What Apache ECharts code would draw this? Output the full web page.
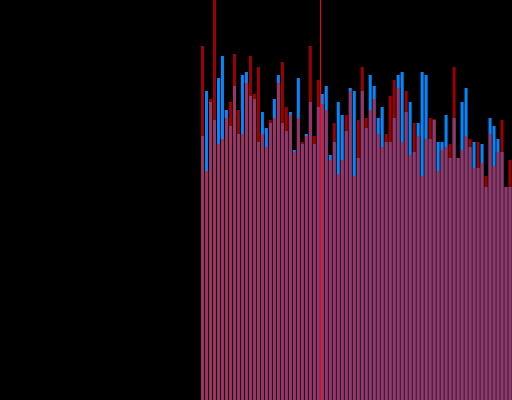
<!DOCTYPE html>
<html>
<head>
<meta charset="utf-8">
<style>html,body{margin:0;padding:0;background:#000;}#c{width:512px;height:400px;}</style>
<script src="https://cdn.jsdelivr.net/npm/echarts@6/dist/echarts.min.js"></script>
</head>
<body>
<div id="c"></div>
<script>
const categories = Array.from({length: 78}, (_, i) => String(i + 1));
const blueValues = [264,309,298,280,322,344,290,274,314,266,325,328,304,301,258,288,272,277,301,325,
  277,269,288,250,322,256,266,298,256,293,306,314,245,258,298,285,269,312,309,242,
  309,272,325,314,282,293,258,258,282,325,328,288,298,248,277,328,325,261,280,258,
  258,285,242,282,242,298,312,253,258,232,256,213,282,274,261,248,213,213];
const redValues = [354,229,301,430,256,261,282,298,346,290,266,317,344,306,333,266,253,280,282,317,
  338,293,285,248,282,258,264,354,264,320,296,290,240,277,226,240,285,309,224,280,
  333,282,290,301,266,253,266,304,320,312,258,309,245,277,264,224,261,282,281,229,
  250,253,256,333,242,250,264,261,232,258,237,224,266,234,248,280,213,240];
const markLinePositions = [30];

const chart = echarts.init(document.getElementById('c'), null, {renderer: 'canvas'});
chart.setOption({
  backgroundColor: '#000000',
  animation: false,
  grid: {left: 200.5, right: -0.5, top: 0, bottom: 0},
  xAxis: [
    {type: 'category', data: categories, show: false},
    {type: 'value', min: 0, max: categories.length, show: false}
  ],
  yAxis: {type: 'value', min: 0, max: 400, show: false},
  series: [
    {type: 'bar', data: blueValues, barWidth: 3, barGap: '-100%',
     itemStyle: {color: '#0088ff'}},
    {type: 'bar', data: redValues, barWidth: 3, barGap: '-100%',
     itemStyle: {color: '#ff0000', opacity: 0.62}},
    {type: 'line', xAxisIndex: 1, data: [], silent: true,
     markLine: {silent: true, symbol: 'none', label: {show: false},
       lineStyle: {color: '#ff0000', width: 1, type: 'solid', opacity: 1},
       data: markLinePositions.map(v => ({xAxis: v}))}}
  ]
});
</script>
</body>
</html>
